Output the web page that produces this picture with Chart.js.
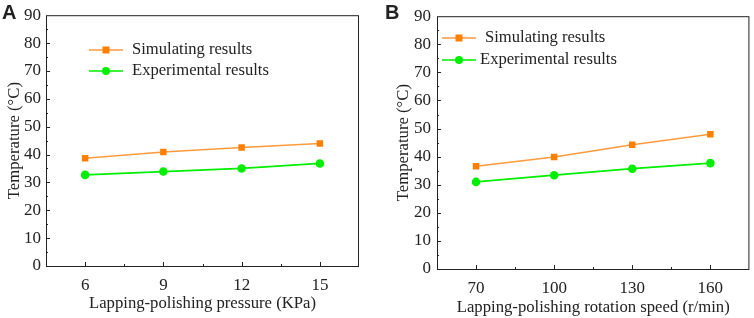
<!DOCTYPE html>
<html>
<head>
<meta charset="utf-8">
<script src="https://cdn.jsdelivr.net/npm/chart.js@4/dist/chart.umd.min.js"></script>
<style>
  html, body { margin: 0; padding: 0; background: #fff; }
  .wrap { position: absolute; top: 0; width: 377px; height: 318px; }
</style>
</head>
<body>
<div class="wrap" style="left:0"><canvas id="chartA" width="377" height="318"></canvas></div>
<div class="wrap" style="left:377px"><canvas id="chartB" width="377" height="318"></canvas></div>
<script>
// panel A: pressure
const pressure = ['6', '9', '12', '15']
const simA = [38.7, 40.9, 42.5, 44.0]
const expA = [32.7, 33.9, 35.0, 36.8]
// panel B: rotation speed
const speed = ['70', '100', '130', '160']
const simB = [36.6, 39.9, 44.2, 48.0]
const expB = [31.0, 33.4, 35.7, 37.7]
const yTicks = [0, 10, 20, 30, 40, 50, 60, 70, 80, 90]

const serif = '"Liberation Serif", "Times New Roman", serif'
const ink = '#222'

// frame, inward ticks, titles and legend
const framePlugin = {
    id: 'frame',
    afterDraw(chart, args, o) {
        const ctx = chart.ctx
        const a = chart.chartArea
        const x = chart.scales.x, y = chart.scales.y
        ctx.save()
        ctx.strokeStyle = ink
        ctx.lineWidth = 1
        ctx.strokeRect(a.left + 0.5, a.top + 0.5, a.right - a.left - 1, a.bottom - a.top)
        ctx.beginPath()
        for (let v = 5; v < 90; v += 5) {
            const py = Math.round(y.getPixelForValue(v)) + 0.5
            ctx.moveTo(a.left, py)
            ctx.lineTo(a.left + (v % 10 === 0 ? 4 : 2), py)
        }
        const n = chart.data.labels.length
        for (let i = 0; i < n; i++) {
            const px = Math.round(x.getPixelForValue(i)) + 0.5
            ctx.moveTo(px, a.bottom)
            ctx.lineTo(px, a.bottom - 4)
            if (i < n - 1) {
                const pm = Math.round((x.getPixelForValue(i) + x.getPixelForValue(i + 1)) / 2) + 0.5
                ctx.moveTo(pm, a.bottom)
                ctx.lineTo(pm, a.bottom - 2)
            }
        }
        ctx.stroke()

        // axis titles
        ctx.fillStyle = ink
        ctx.font = '16.7px ' + serif
        ctx.textAlign = 'center'
        ctx.textBaseline = 'middle'
        ctx.fillText(o.xTitle, (a.left + a.right) / 2, o.xTitleY)
        ctx.save()
        ctx.translate(o.yTitleX, (a.top + a.bottom) / 2)
        ctx.rotate(-Math.PI / 2)
        ctx.fillText('Temperature (°C)', 0, 0)
        ctx.restore()

        // panel letter
        ctx.font = 'bold 20px "Liberation Sans", Arial, sans-serif'
        ctx.textAlign = 'left'
        ctx.textBaseline = 'top'
        ctx.fillText(o.letter, o.letterX, 3)

        // legend
        ctx.font = '16.6px ' + serif
        ctx.textBaseline = 'middle'
        chart.data.datasets.forEach((ds, i) => {
            const ly = o.legendY[i]
            ctx.strokeStyle = ds.borderColor
            ctx.lineWidth = 1.5
            ctx.beginPath()
            ctx.moveTo(o.legendX, ly)
            ctx.lineTo(o.legendX + 34, ly)
            ctx.stroke()
            ctx.fillStyle = ds.pointBackgroundColor
            const cx = o.legendX + 17
            if (ds.pointStyle === 'rect') {
                ctx.fillRect(cx - 3.5, ly - 3.5, 7, 7)
            } else {
                ctx.beginPath()
                ctx.arc(cx, ly, 4, 0, Math.PI * 2)
                ctx.fill()
            }
            ctx.fillStyle = ink
            ctx.fillText(ds.label, o.textX[i], ly)
        })
        ctx.restore()
    }
}

function makeChart(id, labels, sim, exp, cfg) {
    return new Chart(document.getElementById(id).getContext('2d'), {
        type: 'line',
        data: {
            labels: labels,
            datasets: [{
                label: 'Simulating results',
                data: sim,
                borderColor: '#ff9a3c',
                borderWidth: 1.5,
                pointStyle: 'rect',
                pointRadius: 4.6,
                pointBackgroundColor: '#ff7f00',
                pointBorderColor: '#ff7f00',
                pointBorderWidth: 0
            }, {
                label: 'Experimental results',
                data: exp,
                borderColor: '#00ee00',
                borderWidth: 1.8,
                pointStyle: 'circle',
                pointRadius: 4.3,
                pointBackgroundColor: '#00ee00',
                pointBorderColor: '#00ee00',
                pointBorderWidth: 0
            }]
        },
        options: {
            responsive: false,
            animation: false,
            layout: { padding: { left: 0, top: 15, right: cfg.padRight, bottom: 0 } },
            plugins: {
                legend: { display: false },
                tooltip: { enabled: false },
                frame: cfg
            },
            scales: {
                x: {
                    type: 'category',
                    offset: true,
                    grid: { display: false, drawTicks: false },
                    border: { display: false },
                    ticks: { color: ink, padding: 9, font: { family: serif, size: 17 } },
                    afterFit(s) { s.height = cfg.xHeight }
                },
                y: {
                    min: 0,
                    max: 90,
                    afterBuildTicks(s) { s.ticks = yTicks.map(v => ({ value: v })) },
                    grid: { display: false, drawTicks: false },
                    border: { display: false },
                    ticks: { color: ink, padding: cfg.yPad, font: { family: serif, size: 17 } },
                    afterFit(s) { s.width = cfg.yWidth }
                }
            }
        },
        plugins: [framePlugin]
    })
}

var chartA = makeChart('chartA', pressure, simA, expA, {
    padRight: 18, xHeight: 52, yWidth: 46, yPad: 5,
    xTitle: 'Lapping-polishing pressure (KPa)', xTitleY: 304, yTitleX: 15,
    letter: 'A', letterX: 2,
    legendX: 89, legendY: [50, 71], textX: [132, 132]
})
var chartB = makeChart('chartB', speed, simB, expB, {
    padRight: 4, xHeight: 49, yWidth: 60, yPad: 6,
    xTitle: 'Lapping-polishing rotation speed (r/min)', xTitleY: 308, yTitleX: 27,
    letter: 'B', letterX: 8,
    legendX: 65, legendY: [38, 60], textX: [108, 103]
})
</script>
</body>
</html>
